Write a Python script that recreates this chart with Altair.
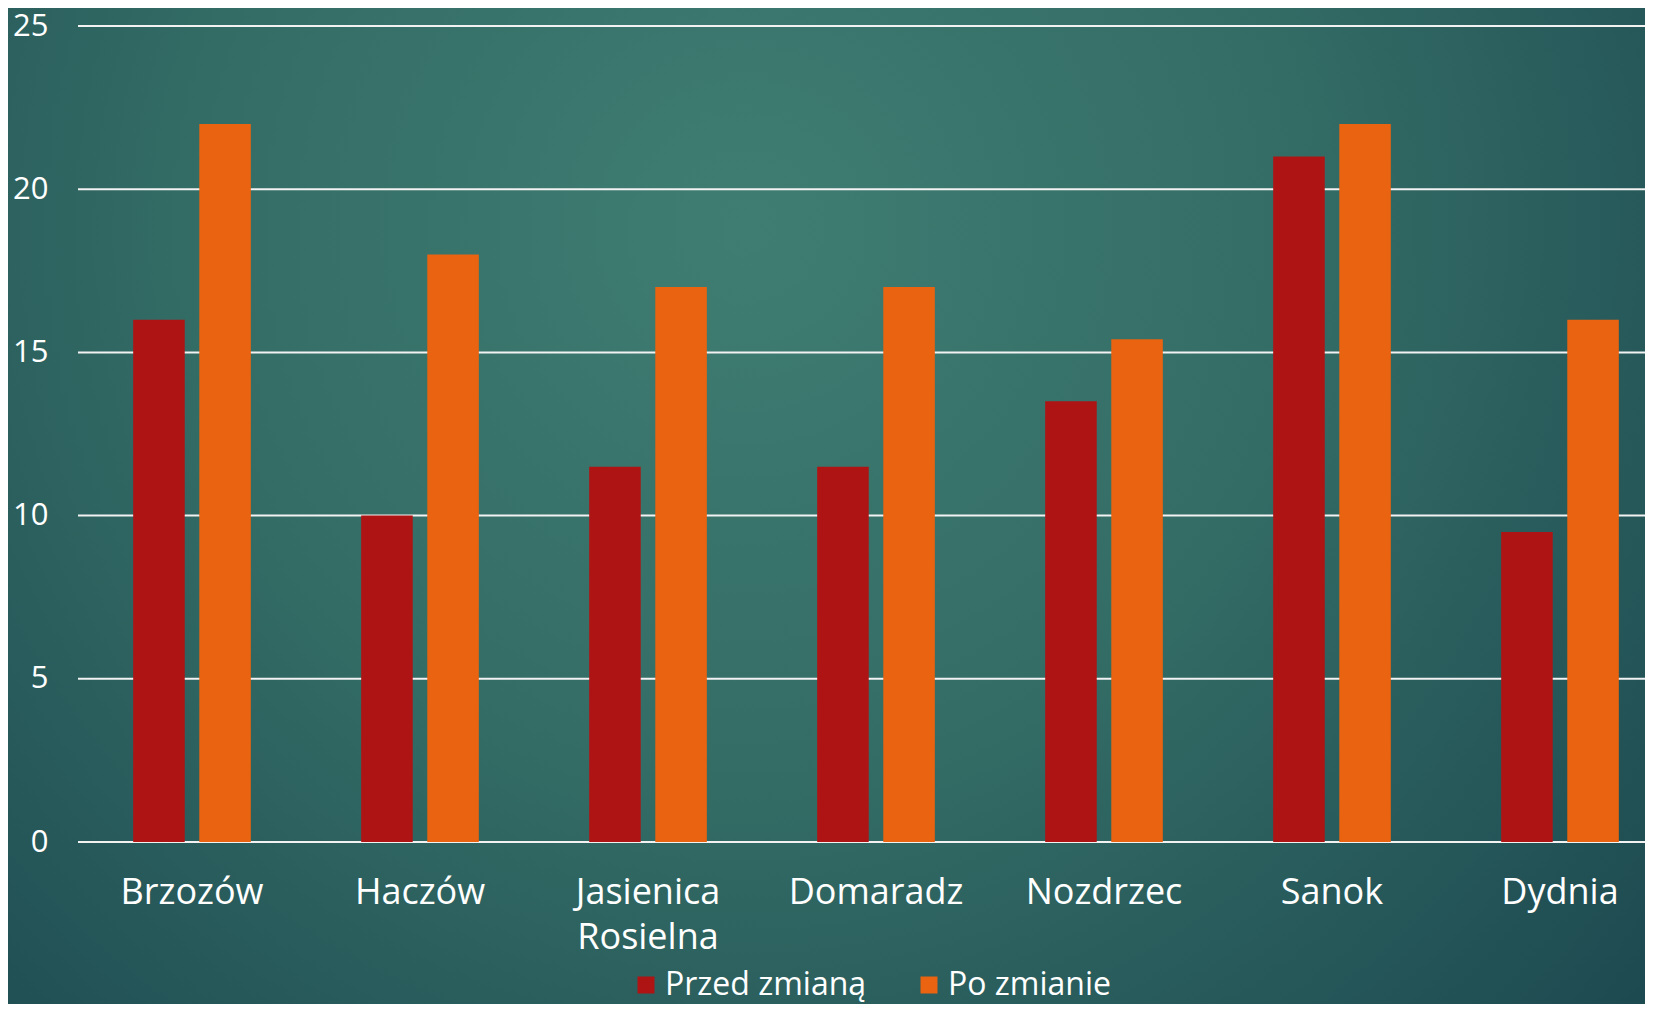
import altair as alt
import pandas as pd

categories = ["Brzozów", "Haczów", "Jasienica Rosielna", "Domaradz", "Nozdrzec", "Sanok", "Dydnia"]
series = ["Przed zmianą", "Po zmianie"]
before = [16, 10, 11.5, 11.5, 13.5, 21, 9.5]
after = [22, 18, 17, 17, 15.4, 22, 16]
colors = ["#AF1414", "#E96311"]
y_ticks = [0, 5, 10, 15, 20, 25]

rows = []
for c, b, a in zip(categories, before, after):
    rows.append({"gmina": c, "seria": series[0], "wartosc": b})
    rows.append({"gmina": c, "seria": series[1], "wartosc": a})
df = pd.DataFrame(rows)

FONT = "Open Sans"
W, H = 1567, 816
PL, PT, PR, PB = 70, 18, 0, 162
X_RANGE = [0, 1596]

gradient = {
    "gradient": "radial",
    "x1": 0.45, "y1": 0.33, "r1": 0,
    "x2": 0.45, "y2": 0.33, "r2": 0.72,
    "stops": [
        {"offset": 0, "color": "#3F7D72"},
        {"offset": 0.45, "color": "#346D66"},
        {"offset": 1, "color": "#1D4A51"},
    ],
}

yscale = alt.Scale(domain=[0, 25], nice=False)

bg = alt.Chart(pd.DataFrame({"a": [0]})).mark_rect(fill=gradient, strokeWidth=0).encode(
    x=alt.value(-PL), x2=alt.value(W + PR), y=alt.value(-PT), y2=alt.value(H + PB)
)

grid = alt.Chart(pd.DataFrame({"v": y_ticks})).mark_rule(color="#F2F2F2", strokeWidth=2).encode(
    y=alt.Y("v:Q", scale=yscale)
)

bars = alt.Chart(df).mark_bar(stroke=None).encode(
    x=alt.X("gmina:N", sort=categories, title=None,
            scale=alt.Scale(paddingInner=0.484, paddingOuter=0.242, range=X_RANGE),
            axis=alt.Axis(labelExpr="split(datum.label, ' ')", labelAngle=0,
                          labelFontSize=36, labelColor="white", labelFont=FONT,
                          labelPadding=33, labelLineHeight=45, domain=False,
                          ticks=False, grid=False, labelBaseline="top", zindex=1)),
    xOffset=alt.XOffset("seria:N", sort=series, scale=alt.Scale(paddingInner=0.22, paddingOuter=0)),
    y=alt.Y("wartosc:Q", title=None, scale=yscale,
            axis=alt.Axis(values=y_ticks, labelFontSize=31, labelColor="white", labelFont=FONT,
                          labelPadding=30, domain=False, ticks=False, grid=False, zindex=1)),
    color=alt.Color("seria:N", sort=series,
                    scale=alt.Scale(domain=series, range=colors),
                    legend=alt.Legend(title=None, orient="none", legendX=552, legendY=943,
                                      direction="horizontal", symbolType="square",
                                      symbolSize=289, symbolStrokeWidth=0,
                                      labelFontSize=32, labelColor="white", labelFont=FONT,
                                      labelOffset=3, columnPadding=46, labelLimit=400,
                                      zindex=1)),
)

chart = alt.layer(bg, grid, bars).properties(
    width=W, height=H, autosize="none",
    padding={"left": PL, "top": PT, "right": PR, "bottom": PB},
).configure(background="#245458").configure_view(stroke=None)

chart.save("out.html", embed_options={"renderer": "svg", "actions": False})
